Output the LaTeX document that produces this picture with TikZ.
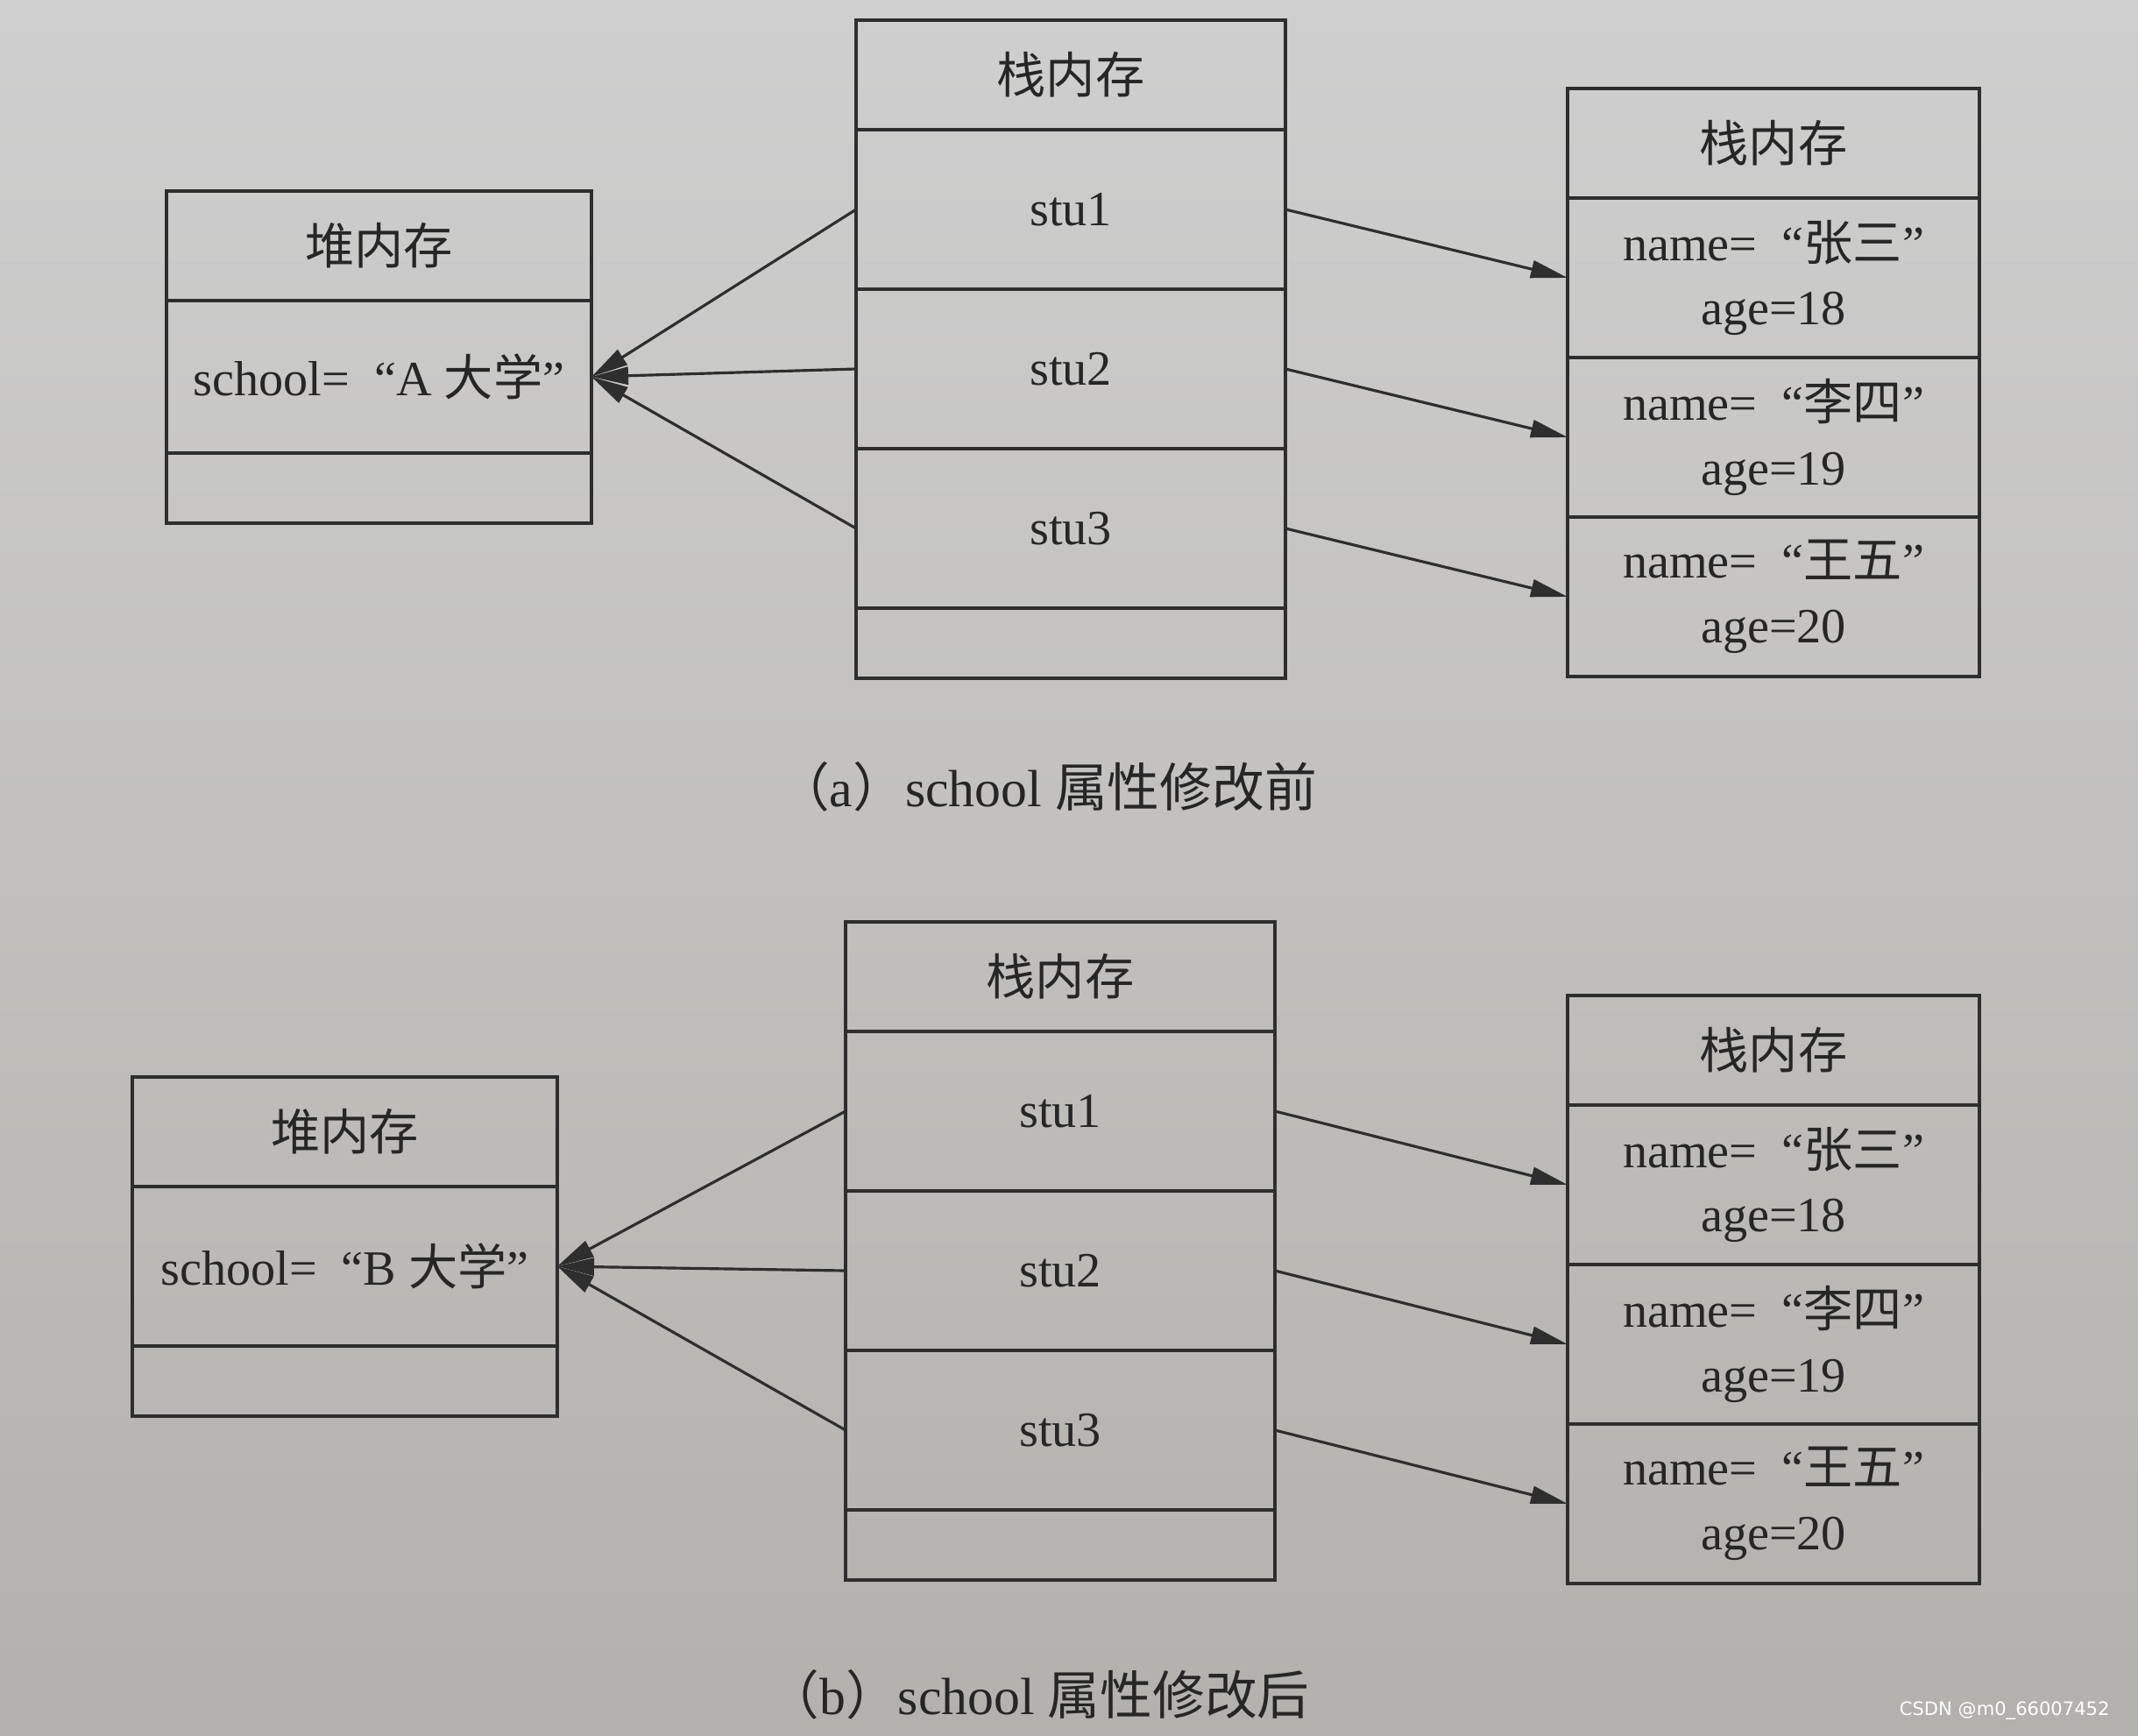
\documentclass[tikz,border=0pt]{standalone}
\usepackage{fontspec}
\setmainfont{Liberation Serif}
\setsansfont{DejaVu Sans}
\newfontfamily\cjk{Noto Sans CJK SC}
\usepackage{tikz}
\usetikzlibrary{arrows.meta, positioning}
\definecolor{MemLine}{HTML}{2E2E2E}
\definecolor{MemInk}{HTML}{262626}
\definecolor{PaperTop}{HTML}{CFCFCF}
\definecolor{PaperBottom}{HTML}{B3B1AD}

\begin{document}
\begin{tikzpicture}[
    cell/.style={
      rectangle, draw=MemLine, line width=1pt, inner sep=0pt, outer sep=0pt,
      align=center, text=MemInk, font=\fontsize{16}{21}\selectfont
    },
    headcell/.style={cell, minimum height=1.25cm},
    rowcell/.style={cell, minimum height=1.82cm},
    footcell/.style={cell, minimum height=0.8cm},
    heapcol/.style={minimum width=4.85cm},
    stackcol/.style={minimum width=4.9cm},
    objcol/.style={minimum width=4.7cm},
    arr/.style={-{Triangle[length=4.2mm, width=2mm]}, draw=MemLine, line width=0.9pt},
    caption/.style={text=MemInk, font=\fontsize{17}{21}\selectfont}
  ]
    \useasboundingbox (0,0) rectangle (24.4,-19.8);
    \shade[top color=PaperTop, bottom color=PaperBottom] (0,0) rectangle (24.4,-19.8);

    % (a) before
    \node[headcell, heapcol, anchor=north west] (hA) at (1.90,-2.18) {\cjk 堆内存};
    \node[rowcell, heapcol, minimum height=1.74cm, below=0pt of hA] (hAs) {school=\hspace{0.5em}“A {\cjk 大学}”};
    \node[footcell, heapcol, below=0pt of hAs] (hAf) {};

    \node[headcell, stackcol, anchor=north west] (sA) at (9.77,-0.23) {\cjk 栈内存};
    \node[rowcell, stackcol, below=0pt of sA] (sA1) {stu1};
    \node[rowcell, stackcol, below=0pt of sA1] (sA2) {stu2};
    \node[rowcell, stackcol, below=0pt of sA2] (sA3) {stu3};
    \node[footcell, stackcol, below=0pt of sA3] (sAf) {};

    \node[headcell, objcol, anchor=north west] (oA) at (17.89,-1.01) {\cjk 栈内存};
    \node[rowcell, objcol, below=0pt of oA] (oA1) {name=\hspace{0.5em}“{\cjk 张三}”\\age=18};
    \node[rowcell, objcol, below=0pt of oA1] (oA2) {name=\hspace{0.5em}“{\cjk 李四}”\\age=19};
    \node[rowcell, objcol, below=0pt of oA2] (oA3) {name=\hspace{0.5em}“{\cjk 王五}”\\age=20};

    \draw[arr] (sA1.west) -- (hAs.east);
    \draw[arr] (sA2.west) -- (hAs.east);
    \draw[arr] (sA3.west) -- (hAs.east);
    \draw[arr] (sA1.east) -- (oA1.west);
    \draw[arr] (sA2.east) -- (oA2.west);
    \draw[arr] (sA3.east) -- (oA3.west);

    \node[caption] (capA) at (11.95,-8.98) {{\cjk （}a{\cjk ）}school {\cjk 属性修改前}};

    % (b) after
    \node[headcell, heapcol, anchor=north west] (hB) at (1.51,-12.29) {\cjk 堆内存};
    \node[rowcell, heapcol, below=0pt of hB] (hBs) {school=\hspace{0.5em}“B {\cjk 大学}”};
    \node[footcell, heapcol, below=0pt of hBs] (hBf) {};

    \node[headcell, stackcol, anchor=north west] (sB) at (9.65,-10.52) {\cjk 栈内存};
    \node[rowcell, stackcol, below=0pt of sB] (sB1) {stu1};
    \node[rowcell, stackcol, below=0pt of sB1] (sB2) {stu2};
    \node[rowcell, stackcol, below=0pt of sB2] (sB3) {stu3};
    \node[footcell, stackcol, below=0pt of sB3] (sBf) {};

    \node[headcell, objcol, anchor=north west] (oB) at (17.89,-11.36) {\cjk 栈内存};
    \node[rowcell, objcol, below=0pt of oB] (oB1) {name=\hspace{0.5em}“{\cjk 张三}”\\age=18};
    \node[rowcell, objcol, below=0pt of oB1] (oB2) {name=\hspace{0.5em}“{\cjk 李四}”\\age=19};
    \node[rowcell, objcol, below=0pt of oB2] (oB3) {name=\hspace{0.5em}“{\cjk 王五}”\\age=20};

    \draw[arr] (sB1.west) -- (hBs.east);
    \draw[arr] (sB2.west) -- (hBs.east);
    \draw[arr] (sB3.west) -- (hBs.east);
    \draw[arr] (sB1.east) -- (oB1.west);
    \draw[arr] (sB2.east) -- (oB2.west);
    \draw[arr] (sB3.east) -- (oB3.west);

    \node[caption] (capB) at (11.85,-19.34) {{\cjk （}b{\cjk ）}school {\cjk 属性修改后}};

    \node[text=white, font=\sffamily\fontsize{6}{7}\selectfont, anchor=south east] (mark) at (24.2,-19.75) {CSDN @m0\_66007452};
  \end{tikzpicture}
\end{document}
